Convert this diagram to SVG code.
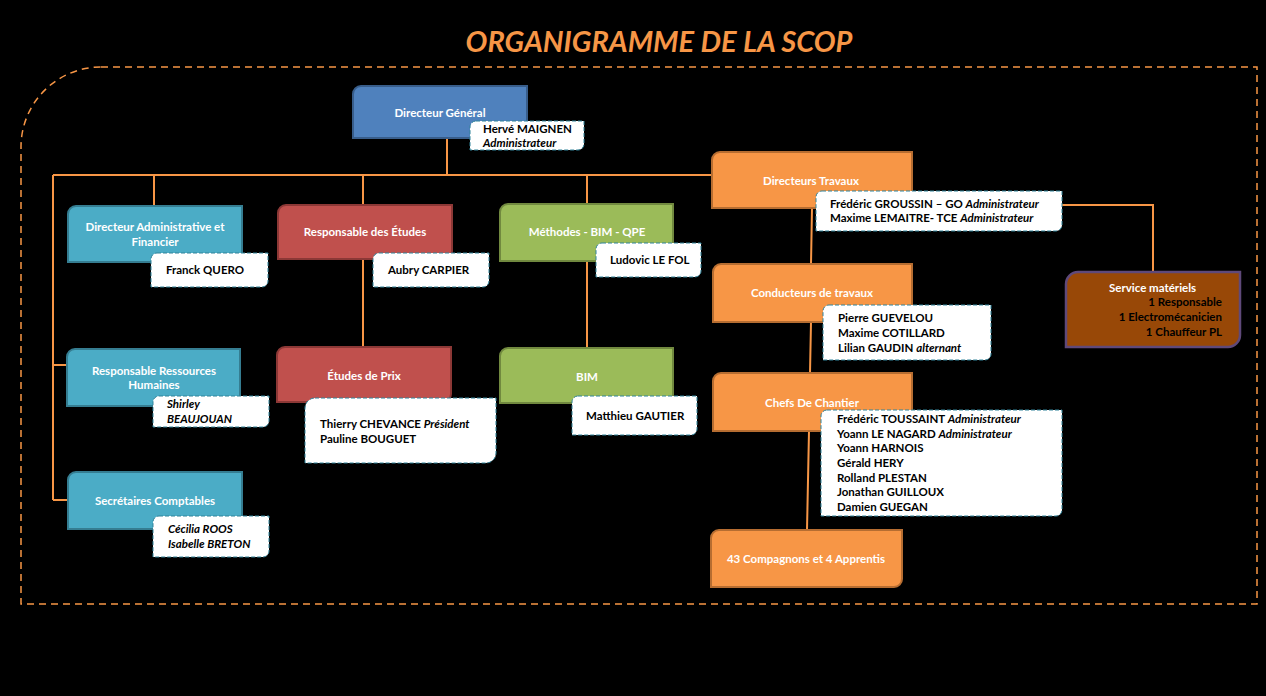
<svg xmlns="http://www.w3.org/2000/svg" width="1266" height="696" viewBox="0 0 1266 696">
<style>
text{font-family:Lato,"Open Sans","Liberation Sans",sans-serif;font-weight:bold;font-size:11.5px}
.t{fill:#ffffff;text-anchor:middle}
.n{fill:#000000}
.i{font-style:italic}
.nb{fill:#ffffff;stroke:#31849b;stroke-width:1;stroke-dasharray:4 2}
.blue{fill:#4f81bd;stroke:#385d8a;stroke-width:2}
.teal{fill:#4bacc6;stroke:#357d91;stroke-width:2}
.red{fill:#c0504d;stroke:#8c3836;stroke-width:2}
.green{fill:#9bbb59;stroke:#71893f;stroke-width:2}
.orange{fill:#f79646;stroke:#b66d31;stroke-width:2}
.brown{fill:#984807;stroke:#5f497a;stroke-width:2.5}
.c{fill:none;stroke:#f79646;stroke-width:2}
</style>
<rect width="1266" height="696" fill="#000"/>
<text x="659" y="52" style="font-size:29px;font-style:italic;fill:#f79646;text-anchor:middle">ORGANIGRAMME DE LA SCOP</text>
<path d="M101,67 H1257 V604 H21 V147 A80,80 0 0 1 101,67 Z" fill="none" stroke="#f79646" stroke-width="1.5" stroke-dasharray="7 5"/>
<g id="connectors">
<path class="c" d="M447,138 V175"/>
<path class="c" d="M53,175 H712"/>
<path class="c" d="M154,175 V206"/>
<path class="c" d="M363,175 V205 M363,259 V347"/>
<path class="c" d="M587,175 V204 M587,261 V348"/>
<path class="c" d="M53,175 V500 M53,365 H67 M53,500 H68"/>
<path class="c" d="M812,208 L811,264 M811,322 L810,373 M809,431 L807,530"/>
<path class="c" d="M1062,205 H1153 V272"/>
</g>
<g id="dg">
<path class="blue" d="M361,86 H527 V130 A8,8 0 0 1 519,138 H353 V94 A8,8 0 0 1 361,86 Z"/>
<text class="t" x="440" y="117">Directeur Général</text>
<path class="nb" d="M476,121 H584 V144 A6,6 0 0 1 578,150 H470 V127 A6,6 0 0 1 476,121 Z"/>
<text class="n" x="483" y="133">Hervé MAIGNEN</text>
<text class="n i" x="483" y="147">Administrateur</text>
</g>
<g id="daf">
<path class="teal" d="M76,206 H242 V254 A8,8 0 0 1 234,262 H68 V214 A8,8 0 0 1 76,206 Z"/>
<text class="t" x="155" y="231">Directeur Administrative et</text>
<text class="t" x="155" y="246">Financier</text>
<path class="nb" d="M157,253 H268 V281 A6,6 0 0 1 262,287 H151 V259 A6,6 0 0 1 157,253 Z"/>
<text class="n" x="166" y="274">Franck QUERO</text>
</g>
<g id="etudes">
<path class="red" d="M286,205 H452 V251 A8,8 0 0 1 444,259 H278 V213 A8,8 0 0 1 286,205 Z"/>
<text class="t" x="365" y="236">Responsable des Études</text>
<path class="nb" d="M379,253 H489 V281 A6,6 0 0 1 483,287 H373 V259 A6,6 0 0 1 379,253 Z"/>
<text class="n" x="388" y="274">Aubry CARPIER</text>
</g>
<g id="methodes">
<path class="green" d="M508,204 H673 V253 A8,8 0 0 1 665,261 H500 V212 A8,8 0 0 1 508,204 Z"/>
<text class="t" x="587" y="236">Méthodes - BIM - QPE</text>
<path class="nb" d="M602,243 H701 V271 A6,6 0 0 1 695,277 H596 V249 A6,6 0 0 1 602,243 Z"/>
<text class="n" x="610" y="264">Ludovic LE FOL</text>
</g>
<g id="dt">
<path class="orange" d="M720,152 H912 V200 A8,8 0 0 1 904,208 H712 V160 A8,8 0 0 1 720,152 Z"/>
<text class="t" x="811" y="185">Directeurs Travaux</text>
<path class="nb" d="M822,191 H1062 V225 A6,6 0 0 1 1056,231 H816 V197 A6,6 0 0 1 822,191 Z"/>
<text class="n" x="830" y="208">Frédéric GROUSSIN – GO <tspan class="i">Administrateur</tspan></text>
<text class="n" x="830" y="222">Maxime LEMAITRE- TCE <tspan class="i">Administrateur</tspan></text>
</g>
<g id="service">
<path class="brown" d="M1078,272 H1240 V335 A12,12 0 0 1 1228,347 H1066 V284 A12,12 0 0 1 1078,272 Z"/>
<text x="1109" y="292" style="fill:#fff">Service matériels</text>
<text x="1222" y="306" style="fill:#000;text-anchor:end">1 Responsable</text>
<text x="1222" y="321" style="fill:#000;text-anchor:end">1 Electromécanicien</text>
<text x="1222" y="336" style="fill:#000;text-anchor:end">1 Chauffeur PL</text>
</g>
<g id="conducteurs">
<path class="orange" d="M721,264 H912 V314 A8,8 0 0 1 904,322 H713 V272 A8,8 0 0 1 721,264 Z"/>
<text class="t" x="812" y="297">Conducteurs de travaux</text>
<path class="nb" d="M829,305 H991 V354 A6,6 0 0 1 985,360 H823 V311 A6,6 0 0 1 829,305 Z"/>
<text class="n" x="838" y="322">Pierre GUEVELOU</text>
<text class="n" x="838" y="337">Maxime COTILLARD</text>
<text class="n" x="838" y="352">Lilian GAUDIN <tspan class="i">alternant</tspan></text>
</g>
<g id="chefs">
<path class="orange" d="M721,373 H912 V423 A8,8 0 0 1 904,431 H713 V381 A8,8 0 0 1 721,373 Z"/>
<text class="t" x="812" y="407">Chefs De Chantier</text>
<path class="nb" d="M827,410 H1062 V510 A6,6 0 0 1 1056,516 H821 V416 A6,6 0 0 1 827,410 Z"/>
<text class="n" x="837" y="423">Frédéric TOUSSAINT <tspan class="i">Administrateur</tspan></text>
<text class="n" x="837" y="438">Yoann LE NAGARD <tspan class="i">Administrateur</tspan></text>
<text class="n" x="837" y="452">Yoann HARNOIS</text>
<text class="n" x="837" y="467">Gérald HERY</text>
<text class="n" x="837" y="482">Rolland PLESTAN</text>
<text class="n" x="837" y="496">Jonathan GUILLOUX</text>
<text class="n" x="837" y="511">Damien GUEGAN</text>
</g>
<g id="compagnons">
<path class="orange" d="M719,530 H902 V579 A8,8 0 0 1 894,587 H711 V538 A8,8 0 0 1 719,530 Z"/>
<text class="t" x="806" y="563">43 Compagnons et 4 Apprentis</text>
</g>
<g id="rh">
<path class="teal" d="M75,349 H240 V398 A8,8 0 0 1 232,406 H67 V357 A8,8 0 0 1 75,349 Z"/>
<text class="t" x="154" y="375">Responsable Ressources</text>
<text class="t" x="154" y="389">Humaines</text>
<path class="nb" d="M159,396 H269 V421 A6,6 0 0 1 263,427 H153 V402 A6,6 0 0 1 159,396 Z"/>
<text class="n i" x="167" y="408">Shirley</text>
<text class="n i" x="167" y="423">BEAUJOUAN</text>
</g>
<g id="prix">
<path class="red" d="M285,347 H451 V394 A8,8 0 0 1 443,402 H277 V355 A8,8 0 0 1 285,347 Z"/>
<text class="t" x="364" y="380">Études de Prix</text>
<path class="nb" d="M315,398 H496 V453 A10,10 0 0 1 486,463 H305 V408 A10,10 0 0 1 315,398 Z"/>
<text class="n" x="320" y="428">Thierry CHEVANCE <tspan class="i">Président</tspan></text>
<text class="n" x="320" y="443">Pauline BOUGUET</text>
</g>
<g id="bim">
<path class="green" d="M508,348 H673 V395 A8,8 0 0 1 665,403 H500 V356 A8,8 0 0 1 508,348 Z"/>
<text class="t" x="587" y="381">BIM</text>
<path class="nb" d="M578,396 H697 V429 A6,6 0 0 1 691,435 H572 V402 A6,6 0 0 1 578,396 Z"/>
<text class="n" x="586" y="420">Matthieu GAUTIER</text>
</g>
<g id="secretaires">
<path class="teal" d="M76,472 H242 V521 A8,8 0 0 1 234,529 H68 V480 A8,8 0 0 1 76,472 Z"/>
<text class="t" x="155" y="505">Secrétaires Comptables</text>
<path class="nb" d="M159,516 H269 V551 A6,6 0 0 1 263,557 H153 V522 A6,6 0 0 1 159,516 Z"/>
<text class="n i" x="168" y="533">Cécilia ROOS</text>
<text class="n i" x="168" y="548">Isabelle BRETON</text>
</g>
</svg>
